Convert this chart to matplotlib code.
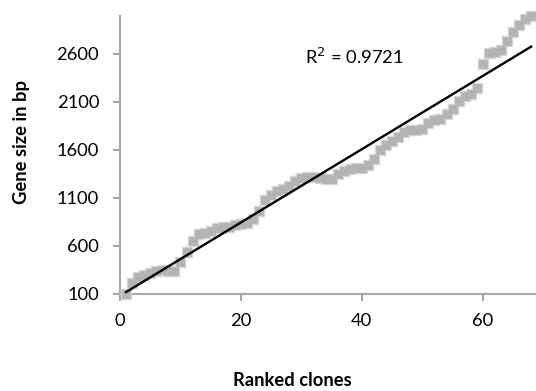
import numpy as np
import matplotlib
matplotlib.use("Agg")
import matplotlib.pyplot as plt

plt.rcParams['font.family'] = ['Lato', 'DejaVu Sans']

clones = list(range(1, 69))
gene_size = [100, 215, 280, 300, 320, 340, 350, 340, 340, 430,
             540, 650, 720, 740, 760, 790, 800, 800, 820, 830,
             840, 880, 960, 1080, 1130, 1170, 1190, 1220, 1280, 1310,
             1320, 1320, 1310, 1300, 1300, 1350, 1380, 1400, 1410, 1410,
             1440, 1510, 1600, 1650, 1690, 1740, 1790, 1810, 1810, 1820,
             1880, 1910, 1920, 1980, 2030, 2110, 2160, 2180, 2250, 2500,
             2610, 2620, 2640, 2740, 2830, 2900, 2960, 3000]
y_ticks = [100, 600, 1100, 1600, 2100, 2600]
x_ticks = [0, 20, 40, 60]
r2_text = "R$^2$ = 0.9721"

FS = 13.2
W, H = 536, 391
fig = plt.figure(figsize=(W / 100, H / 100), dpi=100)
ax = fig.add_axes([120 / W, 1 - 294 / H, (W - 120) / W, (294 - 15.6) / H])

x = np.array(clones, dtype=float)
y = np.array(gene_size, dtype=float)
# soft halo + core to mimic the blurred Excel markers
ax.plot(x, y, linestyle='none', marker='s', markersize=7.2,
        color='#d0d0d0', markeredgecolor='#d6d6d6', markeredgewidth=1.0,
        zorder=2, clip_on=False)
ax.plot(x, y, linestyle='none', marker='s', markersize=5.2,
        color='#b3b3b3', markeredgecolor='#b3b3b3', markeredgewidth=0.5,
        zorder=2.1, clip_on=False)

slope, intercept = np.polyfit(x, y, 1)
xf = np.array([x.min(), x.max()])
ax.plot(xf, slope * xf + intercept, color='black', linewidth=1.7, zorder=3)

ax.set_xlim(0, 68.8)
ax.set_ylim(100, 3000)
ax.set_xticks(x_ticks)
ax.set_yticks(y_ticks)

for s in ['top', 'right']:
    ax.spines[s].set_visible(False)
for s in ['left', 'bottom']:
    ax.spines[s].set_color('#a6a6a6')
    ax.spines[s].set_linewidth(1.5)
    ax.spines[s].set_zorder(1)

ax.tick_params(axis='both', colors='#a6a6a6', length=5, width=1.5,
               labelcolor='black', labelsize=FS)
ax.tick_params(axis='x', pad=9)
ax.tick_params(axis='y', pad=10)

ax.text(305 / W, 1 - 57 / H, r2_text, transform=fig.transFigure,
        fontsize=FS, va='center', ha='left')

fig.text(292 / W, 1 - 380 / H, "Ranked clones", fontsize=FS,
         fontweight='bold', ha='center', va='center')
fig.text(22 / W, 1 - 142 / H, "Gene size in bp", fontsize=FS,
         fontweight='bold', ha='center', va='center', rotation=90)

fig.savefig("out.png", dpi=100)
